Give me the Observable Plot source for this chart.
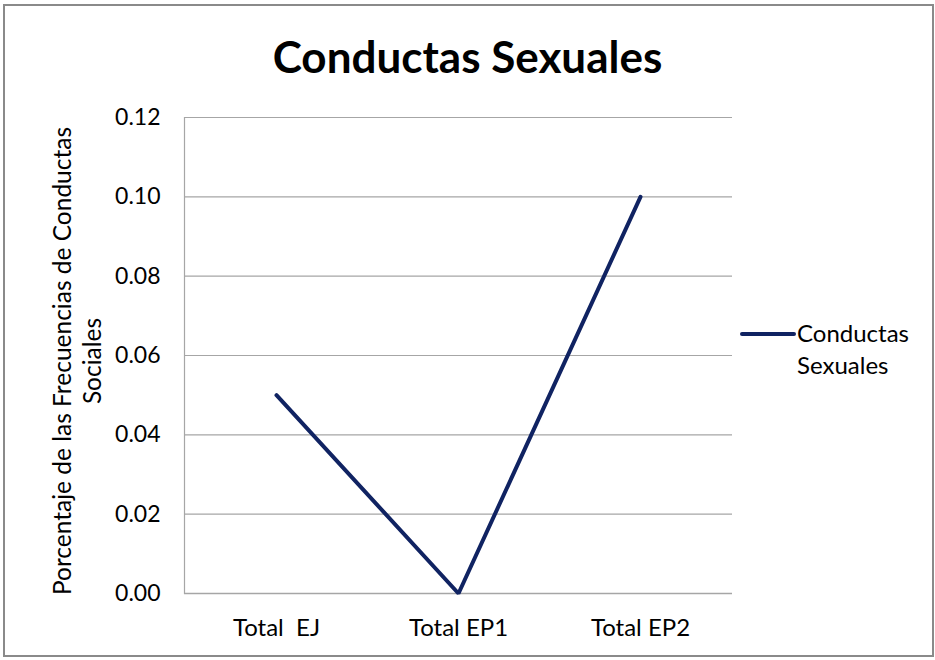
<!DOCTYPE html>
<html>
<head>
<meta charset="utf-8">
<script src="https://cdn.jsdelivr.net/npm/d3@7"></script>
<script src="https://cdn.jsdelivr.net/npm/@observablehq/plot@0.6"></script>
<style>
  html, body { margin: 0; padding: 0; background: #fff; }
  #wrap { position: relative; width: 935px; height: 660px; overflow: hidden; font-family: Lato, "Open Sans", sans-serif; color: #000; }
  #frame { position: absolute; left: 3px; top: 4px; width: 927px; height: 649px; border: 2px solid #8a8a8a; box-sizing: content-box; }
  #title { position: absolute; left: 0; width: 935px; top: 28px; text-align: center; font-size: 44px; font-weight: bold; line-height: 56px; }
  #ylab { position: absolute; left: 77px; top: 361px; width: 560px; transform: translate(-50%, -50%) rotate(-90deg); text-align: center; font-size: 24.5px; line-height: 30px; }
  #legend { position: absolute; left: 740px; top: 317px; font-size: 24px; line-height: 32px; }
  #legend .sw { position: absolute; left: 0; top: 14.5px; width: 56px; height: 4px; border-radius: 2px; background: #102362; }
  #legend .tx { position: absolute; left: 57px; top: 0; white-space: nowrap; }
  #chart { position: absolute; left: 0; top: 0; }
</style>
</head>
<body>
<div id="wrap">
  <div id="frame"></div>
  <div id="chart"></div>
  <div id="title">Conductas Sexuales</div>
  <div id="ylab">Porcentaje de las Frecuencias de Conductas<br>Sociales</div>
  <div id="legend"><div class="sw"></div><div class="tx">Conductas<br>Sexuales</div></div>
</div>
<script>
const categories = ["Total  EJ", "Total EP1", "Total EP2"];
const values = [0.05, 0.0, 0.10];
const yTicks = [0, 0.02, 0.04, 0.06, 0.08, 0.10, 0.12];
const seriesName = "Conductas Sexuales";

const data = categories.map((c, i) => ({category: c, value: values[i]}));

const chart = Plot.plot({
  width: 935,
  height: 660,
  marginLeft: 184,
  marginRight: 203,
  marginTop: 117,
  marginBottom: 67,
  style: {fontFamily: "Lato, 'Open Sans', sans-serif", fontSize: "23px", color: "#000", background: "transparent"},
  x: {type: "point", domain: categories, padding: 0.5, label: null},
  y: {domain: [0, 0.12], label: null},
  marks: [
    Plot.gridY(yTicks, {stroke: "#a6a6a6", strokeOpacity: 1, strokeWidth: 1.2}),
    Plot.frame({anchor: "left", stroke: "#a6a6a6", strokeWidth: 1.2}),
    Plot.ruleY([0], {stroke: "#a6a6a6", strokeWidth: 1.5}),
    Plot.axisY(yTicks, {tickSize: 0, tickPadding: 24, tickFormat: d3.format(".2f"), fontSize: 23, label: null}),
    Plot.axisX({tickSize: 0, tickPadding: 25, fontSize: 24, label: null}),
    Plot.line(data, {x: "category", y: "value", stroke: "#102362", strokeWidth: 4, strokeLinejoin: "miter", strokeLinecap: "round"})
  ]
});
document.getElementById("chart").appendChild(chart);
</script>
</body>
</html>
